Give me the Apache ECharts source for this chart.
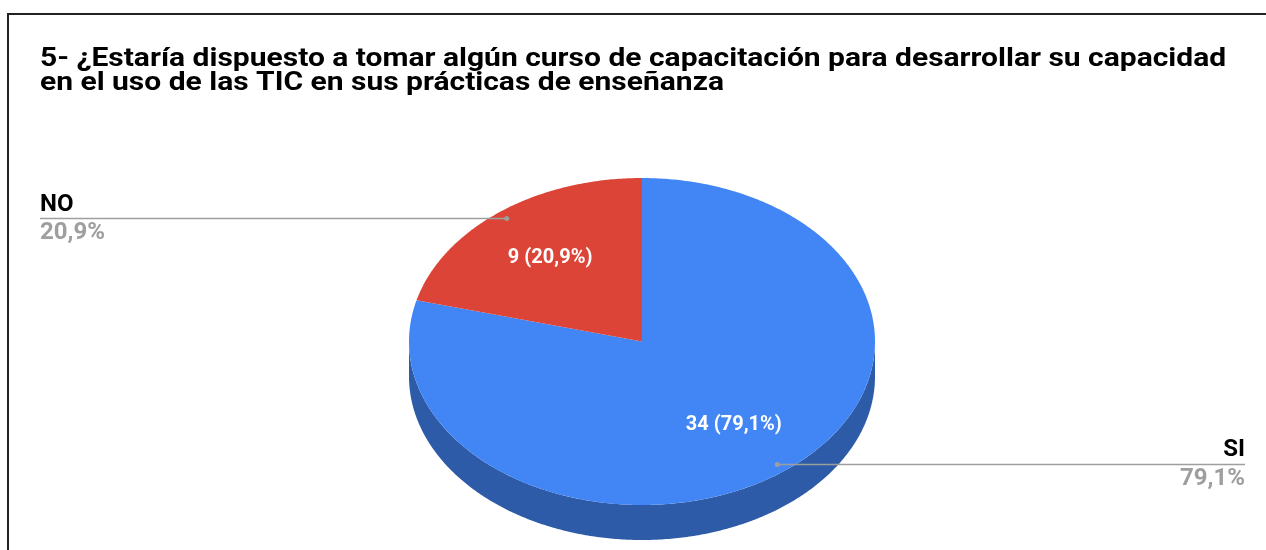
<!DOCTYPE html>
<html>
<head>
<meta charset="utf-8">
<script src="https://cdn.jsdelivr.net/npm/echarts@6.0.0/dist/echarts.min.js"></script>
<style>
  html, body { margin: 0; padding: 0; background: #fff; }
  #chart { width: 1266px; height: 550px; }
</style>
</head>
<body>
<div id="chart"></div>
<script>
// datos de la encuesta
var categorias = ['SI', 'NO']
var respuestas = [34, 9]
var colores = ['#4285f4', '#db4437']
var coloresLado = ['#2d5ba8', '#a83327']

var titulo = '5- ¿Estaría dispuesto a tomar algún curso de capacitación para desarrollar su capacidad\nen el uso de las TIC en sus prácticas de enseñanza'

var total = respuestas.reduce(function (a, b) { return a + b }, 0)

// geometria del pastel "3D"
var cx = 642, cy = 341.5, rx = 233, ry = 163.5, prof = 35

function punto (ang, r, dy) {
  return [cx + rx * r * Math.sin(ang), cy - ry * r * Math.cos(ang) + (dy || 0)]
}

function pct (v) {
  return (v / total * 100).toFixed(1).replace('.', ',') + '%'
}

function dibujar (params, api) {
  var i = params.dataIndex
  var v = api.value(0)
  var antes = 0
  for (var k = 0; k < i; k++) antes += respuestas[k]
  var a0 = antes / total * Math.PI * 2
  var a1 = (antes + v) / total * Math.PI * 2
  var hijos = []

  // lado visible (mitad de adelante)
  var s = Math.max(a0, Math.PI / 2)
  var e = Math.min(a1, Math.PI * 1.5)
  if (e > s) {
    var lado = []
    var n = Math.max(2, Math.ceil((e - s) / 0.01))
    for (var j = 0; j <= n; j++) lado.push(punto(s + (e - s) * j / n, 1))
    for (var j2 = n; j2 >= 0; j2--) lado.push(punto(s + (e - s) * j2 / n, 1, prof))
    hijos.push({ type: 'polygon', z2: 1, shape: { points: lado }, style: { fill: coloresLado[i] } })
  }

  // cara superior
  var cara = [[cx, cy]]
  var m = Math.max(2, Math.ceil((a1 - a0) / 0.01))
  for (var q = 0; q <= m; q++) cara.push(punto(a0 + (a1 - a0) * q / m, 1))
  hijos.push({ type: 'polygon', z2: 2, shape: { points: cara }, style: { fill: colores[i] } })

  // etiqueta interior
  var medio = (a0 + a1) / 2
  var pIn = punto(medio, 0.645)
  hijos.push({
    type: 'text', z2: 5,
    style: {
      text: v + ' (' + pct(v) + ')', x: pIn[0], y: pIn[1],
      fill: '#fff', font: 'bold 20px Roboto', align: 'center', verticalAlign: 'middle'
    }
  })

  // etiqueta exterior con linea
  var pOut = punto(medio, 0.95)
  var izq = Math.sin(medio) < 0
  var xFin = izq ? 40 : 1245
  hijos.push({
    type: 'line', z2: 6,
    shape: { x1: pOut[0], y1: pOut[1], x2: xFin, y2: pOut[1] },
    style: { stroke: '#9e9e9e', lineWidth: 1.5 }
  })
  hijos.push({ type: 'circle', z2: 7, shape: { cx: pOut[0], cy: pOut[1], r: 2.5 }, style: { fill: '#9e9e9e' } })
  hijos.push({
    type: 'text', z2: 6,
    style: {
      text: categorias[i], x: xFin, y: pOut[1] - 14,
      fill: '#000', font: 'bold 24px Roboto', align: izq ? 'left' : 'right', verticalAlign: 'middle'
    }
  })
  hijos.push({
    type: 'text', z2: 6,
    style: {
      text: pct(v), x: xFin, y: pOut[1] + 14.5,
      fill: '#9e9e9e', font: 'bold 24px Roboto', align: izq ? 'left' : 'right', verticalAlign: 'middle'
    }
  })

  return { type: 'group', children: hijos }
}

var chart = echarts.init(document.getElementById('chart'))
chart.setOption({
  backgroundColor: '#fff',
  animation: false,
  graphic: [{
    type: 'rect',
    shape: { x: 8, y: 14, width: 1400, height: 700 },
    style: { fill: null, stroke: '#222', lineWidth: 2 }
  }, {
    // titulo (un poco ensanchado como en la imagen)
    type: 'text',
    x: 40,
    y: 48,
    scaleX: 1.2,
    style: {
      text: titulo,
      font: 'bold 25px Roboto',
      lineHeight: 24,
      fill: '#000',
      verticalAlign: 'top'
    }
  }],
  series: [{
    type: 'custom',
    coordinateSystem: 'none',
    renderItem: dibujar,
    data: respuestas.map(function (v) { return [v] })
  }]
})
</script>
</body>
</html>
